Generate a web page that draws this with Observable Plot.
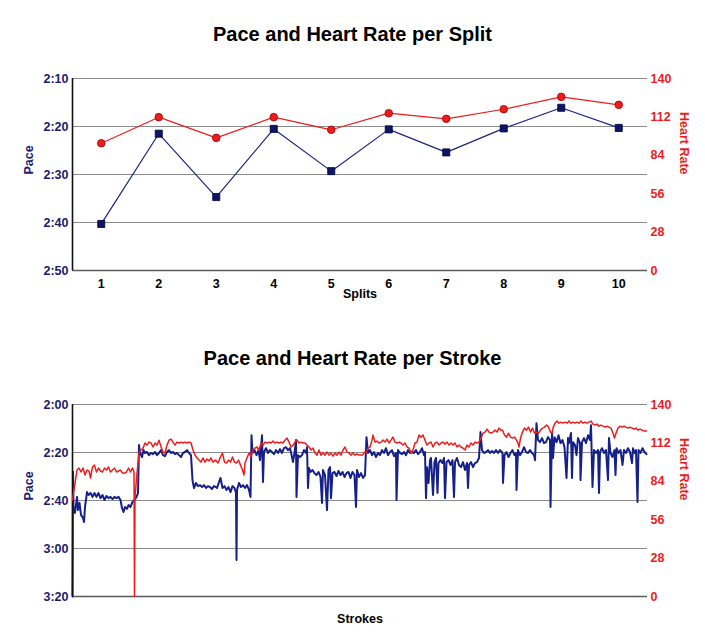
<!DOCTYPE html>
<html><head><meta charset="utf-8">
<script src="https://cdn.jsdelivr.net/npm/d3@7"></script>
<script src="https://cdn.jsdelivr.net/npm/@observablehq/plot@0.6"></script>
<style>
body{margin:0;background:#fff}
#root{position:relative;width:705px;height:643px;overflow:hidden;font-family:"Liberation Sans",Arial,Helvetica,sans-serif;}
.title{position:absolute;left:0;width:705px;text-align:center;font-weight:bold;font-size:20px;line-height:24px;color:#000}
.layer{position:absolute;left:0;width:705px}
.layer svg{overflow:visible}
.layer svg text{font-weight:bold}
</style>
</head><body>
<div id="root">
  <div class="title" style="top:22px">Pace and Heart Rate per Split</div>
  <div class="title" style="top:346px">Pace and Heart Rate per Stroke</div>
  <div id="c1a" class="layer" style="top:60px"></div>
  <div id="c1b" class="layer" style="top:60px"></div>
  <div id="c2a" class="layer" style="top:386px"></div>
  <div id="c2b" class="layer" style="top:386px"></div>
</div>
<script>
// ---- Data ----
const splits = [1, 2, 3, 4, 5, 6, 7, 8, 9, 10];
const splitPace = [160.3, 141.5, 154.7, 140.5, 149.3, 140.6, 145.4, 140.4, 136.1, 140.3]; // seconds per 500m
const splitHR = [92.8, 111.8, 96.7, 111.8, 102.6, 114.7, 110.6, 117.6, 126.6, 120.8];

const splitPaceTicks = [130, 140, 150, 160, 170];
const strokePaceTicks = [120, 140, 160, 180, 200];
const hrTicks = [0, 28, 56, 84, 112, 140];

// [stroke, pace seconds]
const strokePace = [[0,200],[1,148],[2,162.7],[5,165.2],[9,158.5],[11,164],[14,161],[17,166],[21,167.3],[23,169],[25,162.7],[29,156.5],[32,157.7],[36,156.9],[40,158.5],[44,156.9],[48,158.5],[52,156.9],[56,159],[60,157.7],[64,159.8],[68,158.1],[72,159],[76,158.5],[80,159.4],[84,158.5],[88,159],[92,158.5],[96,159.8],[99,163.1],[102,164.8],[105,162.7],[109,163.5],[112,161.9],[116,162.7],[120,160.6],[124,159.8],[128,158.5],[131,156.9],[133,136.9],[135,140.2],[139,141.9],[142,139],[145,140.2],[149,139.8],[153,141.1],[157,140.2],[161,140.7],[165,139.8],[169,141.1],[173,140.2],[177,139],[181,141.1],[185,141.5],[189,139.8],[193,139],[197,140.2],[201,139.8],[205,140.7],[209,140.2],[213,141.1],[217,141.9],[221,140.2],[225,139.8],[229,139],[233,140.2],[237,141.1],[240,151.5],[243,154.8],[247,152.7],[251,154],[255,153.6],[259,154.4],[263,153.6],[267,154.8],[271,154],[275,154.4],[279,155.2],[283,154],[287,154.4],[289,154.8],[296,150.6],[300,154.8],[304,154],[308,155.6],[312,154.4],[316,156.5],[320,154],[324,154.8],[327,156.9],[328,184.8],[329,155.6],[333,152.7],[337,154.4],[341,153.6],[345,154.8],[349,153.6],[353,155.6],[356,158.5],[358,132.8],[360,140.2],[364,139],[368,141.1],[372,139],[375,143.2],[377,138.2],[379,132.8],[381,152.3],[383,139.8],[387,138.2],[391,140.2],[395,139],[399,139.8],[403,140.7],[407,139],[411,140.2],[415,138.6],[419,140.2],[423,138.2],[427,137.8],[431,139],[435,138.2],[439,141.9],[441,144],[444,140.2],[447,134.8],[448,158.5],[451,141.1],[455,141.9],[459,141.1],[463,139],[467,140.2],[469,137.8],[471,154.8],[473,146.5],[476,148.1],[480,147.3],[484,148.6],[488,149.4],[492,148.1],[496,150.2],[499,161],[501,147.3],[505,149.4],[509,164],[512,147.3],[515,146.1],[517,159],[520,148.6],[524,148.1],[528,149.8],[532,147.7],[536,149.4],[540,148.1],[544,150.2],[548,148.6],[552,148.1],[556,150.6],[560,148.1],[564,149.4],[567,162.7],[569,147.3],[573,150.2],[577,148.6],[581,150.6],[585,149.4],[588,133.6],[591,140.2],[595,139],[599,141.1],[603,139.8],[607,141.9],[611,140.2],[615,141.1],[619,139],[623,140.2],[627,138.2],[631,141.1],[635,139.8],[639,139],[643,141.5],[647,140.2],[648,159.8],[651,139],[655,140.2],[659,140.7],[663,139.8],[667,141.1],[671,139],[675,140.2],[679,139.8],[683,140.2],[687,139],[691,140.7],[695,139.8],[699,138.2],[703,141.1],[705,139.8],[707,159],[709,146.1],[712,152.7],[715,143.2],[717,142.3],[721,157.7],[724,144],[727,142.3],[730,156.9],[732,144.4],[736,143.2],[740,144.4],[743,142.3],[745,159],[748,144],[752,143.2],[756,145.2],[760,143.2],[763,158.5],[765,144],[769,142.3],[773,145.2],[777,146.1],[781,144],[785,147.3],[789,144.4],[791,154.8],[793,145.2],[797,144],[801,146.1],[805,144.4],[809,144],[813,142.3],[816,131.5],[819,139],[823,140.2],[827,139.8],[831,139],[835,140.2],[839,139.4],[843,140.2],[847,139],[851,140.2],[855,139],[860,140.2],[861,152.7],[864,141.1],[868,139.8],[872,141.9],[876,140.2],[880,139],[884,141.1],[887,140.2],[888,155.6],[891,139],[895,141.1],[899,139.8],[903,137.8],[907,139.8],[911,140.2],[915,139],[919,140.2],[923,141.1],[925,143.2],[928,127.8],[931,134.8],[935,135.7],[939,134],[943,136.1],[947,135.7],[951,133.6],[955,134.8],[956,162.7],[959,131.9],[961,142.3],[964,133.6],[968,135.7],[972,132.8],[976,136.1],[980,134.8],[984,137.8],[988,150.6],[991,134],[993,136.1],[997,131.9],[999,150.6],[1001,135.7],[1005,136.9],[1008,141.1],[1011,134],[1015,136.1],[1016,151.5],[1019,135.7],[1023,134],[1027,136.1],[1031,132.8],[1035,134.8],[1037,128.6],[1040,154.4],[1043,139],[1047,140.2],[1051,139],[1053,156.9],[1055,139.8],[1059,138.2],[1063,140.2],[1067,139],[1071,151.5],[1073,134],[1076,140.2],[1080,141.9],[1084,139],[1086,149.4],[1088,138.2],[1092,140.2],[1096,139],[1100,145.2],[1103,139],[1107,140.2],[1111,138.2],[1115,139.8],[1119,144.4],[1121,138.2],[1124,140.2],[1127,139],[1130,160.6],[1132,139],[1136,140.2],[1140,138.2],[1144,139.8],[1148,140.7]];

// [stroke, heart rate]
const strokeHR = [[0,70.4],[5,82.7],[9,92.2],[13,93.7],[17,90.8],[21,93.7],[25,88.6],[29,92.2],[33,91.5],[36,86.4],[40,94.4],[44,95.8],[48,90.8],[52,93.7],[56,91.5],[60,90.8],[64,93.7],[68,92.2],[72,94.4],[76,90.8],[80,92.2],[84,93.7],[88,90.8],[92,91.5],[96,92.2],[100,90.0],[104,90.0],[108,90.8],[112,93.7],[116,90.8],[120,93.7],[123,90.8],[124,0],[125,72.6],[129,90.0],[133,104.6],[137,106.8],[141,108.2],[145,111.9],[149,110.4],[153,112.6],[157,111.9],[161,109.0],[165,111.9],[169,110.4],[173,114.0],[177,109.0],[181,105.3],[185,104.6],[189,110.4],[193,114.0],[197,114.8],[201,112.6],[205,110.4],[209,112.6],[213,111.9],[217,112.6],[221,111.9],[225,112.6],[229,111.9],[233,112.6],[237,111.9],[241,106.8],[245,103.1],[249,101.0],[253,99.5],[257,98.0],[261,101.0],[265,98.0],[269,100.2],[273,98.8],[277,101.0],[281,98.0],[286,99.5],[291,97.3],[296,101.7],[300,104.6],[304,98.0],[308,97.3],[312,99.5],[316,98.0],[320,101.7],[324,98.0],[328,97.3],[332,99.5],[336,95.8],[340,92.2],[343,88.6],[345,97.3],[349,101.0],[353,104.6],[357,101.7],[361,106.8],[365,108.2],[369,109.0],[373,106.8],[377,111.9],[381,110.4],[385,112.6],[389,111.9],[393,112.6],[397,111.9],[401,113.3],[405,111.9],[409,112.6],[413,111.9],[417,112.6],[421,111.9],[425,114.0],[429,115.5],[433,112.6],[437,109.0],[441,110.4],[445,112.6],[449,114.0],[453,111.9],[457,112.6],[461,111.9],[465,111.9],[469,110.4],[473,109.0],[477,106.8],[481,108.2],[485,104.6],[489,103.1],[493,106.8],[497,103.1],[501,104.6],[505,103.1],[509,105.3],[513,103.1],[517,104.6],[521,102.4],[525,104.6],[529,103.1],[533,105.3],[537,103.1],[541,106.8],[545,109.0],[549,105.3],[553,104.6],[557,103.1],[561,104.6],[565,103.1],[569,103.9],[573,103.1],[580,103.1],[584,105.3],[587,104.6],[591,108.2],[595,109.0],[599,114.0],[601,117.7],[605,112.6],[609,113.3],[613,111.9],[617,112.6],[621,114.0],[625,112.6],[629,114.8],[633,111.9],[637,114.0],[641,116.2],[645,112.6],[649,111.9],[653,112.6],[657,111.9],[661,110.4],[665,111.9],[669,109.0],[673,108.2],[677,104.6],[681,106.8],[685,111.9],[689,112.6],[693,117.7],[697,116.2],[701,117.7],[705,114.0],[709,110.4],[713,111.9],[717,112.6],[721,109.0],[725,111.9],[729,112.6],[733,110.4],[737,111.9],[741,112.6],[745,111.1],[749,112.6],[753,110.4],[757,111.9],[761,110.4],[765,111.9],[769,109.0],[773,110.4],[777,109.0],[781,108.2],[785,106.8],[789,110.4],[793,109.0],[797,111.9],[801,110.4],[805,112.6],[809,111.9],[813,112.6],[817,115.5],[821,119.1],[825,119.9],[829,122.1],[833,119.9],[837,119.1],[841,119.9],[845,121.3],[849,119.9],[853,122.8],[857,121.3],[860,121.3],[864,117.7],[868,116.2],[872,119.1],[876,116.2],[880,115.5],[884,116.2],[888,114.0],[891,111.9],[893,109.0],[896,115.5],[900,119.9],[904,122.8],[908,121.3],[912,123.5],[916,119.9],[920,122.8],[924,119.1],[928,119.9],[932,119.1],[936,121.3],[940,122.8],[944,123.5],[948,125.0],[952,123.5],[956,119.9],[959,119.1],[961,122.8],[965,126.4],[969,127.9],[973,126.4],[977,127.1],[981,126.4],[985,127.1],[989,126.4],[993,127.9],[997,126.4],[1001,127.1],[1005,126.4],[1009,127.1],[1013,126.4],[1017,127.9],[1021,126.4],[1025,127.1],[1029,126.4],[1033,127.1],[1037,127.9],[1041,125.7],[1045,125.0],[1049,125.7],[1053,124.2],[1057,125.0],[1061,124.2],[1065,123.5],[1069,124.2],[1073,123.5],[1077,122.8],[1081,119.1],[1084,115.5],[1087,119.1],[1091,122.8],[1095,124.2],[1099,123.5],[1103,124.2],[1107,123.5],[1111,122.8],[1115,123.5],[1119,122.8],[1123,122.1],[1127,122.8],[1131,121.3],[1135,122.1],[1139,121.3],[1143,120.6],[1148,120.6]];

const strokeDomain = [0, 1150];

// ---- Styles ----
const NAVY = "#16208a";
const NAVY_TEXT = "#1c1c6a";
const RED = "#ee1c1c";
const GRID = "#8c8c8c";
const FONT = "'Liberation Sans', Arial, Helvetica, sans-serif";

const paceFmt = s => { const m = Math.floor(s / 60), r = Math.round(s - m * 60); return m + ":" + String(r).padStart(2, "0"); };

const common = {
  width: 705, height: 250,
  marginLeft: 72, marginRight: 58, marginTop: 18, marginBottom: 40,
  style: {background: "transparent", fontFamily: FONT, fontSize: "12.5px", overflow: "visible"}
};

const splitRows = splits.map((s, i) => ({split: s, pace: splitPace[i], hr: splitHR[i]}));

// ---- Chart 1: pace layer ----
const c1a = Plot.plot({
  ...common,
  x: {domain: [0.5, 10.5]},
  y: {domain: [130, 170], reverse: true},
  marks: [
    Plot.ruleY(splitPaceTicks.slice(0, 4), {stroke: GRID, strokeWidth: 1}),
    Plot.ruleY([170], {stroke: "#5a5a5a", strokeWidth: 1.6}),
    Plot.ruleX([0.5], {stroke: "#111", strokeWidth: 1.6}),
    Plot.axisY({anchor: "left", ticks: splitPaceTicks, tickSize: 0, tickPadding: 4, tickFormat: paceFmt, fill: NAVY_TEXT, fontSize: 12.5, label: null}),
    Plot.axisX({anchor: "bottom", ticks: splits, tickSize: 0, tickPadding: 9, tickFormat: d => String(d), fill: "#000", fontSize: 12.5, label: null}),
    Plot.text(["Pace"], {text: d => d, frameAnchor: "left", dx: -44, rotate: -90, fill: NAVY_TEXT, fontSize: 12.5, fontWeight: "bold"}),
    Plot.text(["Splits"], {text: d => d, frameAnchor: "bottom", dy: 27, fill: "#000", fontSize: 12.5, fontWeight: "bold"}),
    Plot.line(splitRows, {x: "split", y: "pace", stroke: "#1c2580", strokeWidth: 1.2}),
    Plot.dot(splitRows, {x: "split", y: "pace", symbol: "square", r: 4, fill: "#0b1766", stroke: "#000033", strokeWidth: 0.8})
  ]
});
document.getElementById("c1a").append(c1a);

// ---- Chart 1: heart-rate layer ----
const c1b = Plot.plot({
  ...common,
  x: {domain: [0.5, 10.5], axis: null},
  y: {domain: [0, 140]},
  marks: [
    Plot.axisY({anchor: "right", ticks: hrTicks, tickSize: 0, tickPadding: 3, fill: RED, fontSize: 12.5, label: null}),
    Plot.text(["Heart Rate"], {text: d => d, frameAnchor: "right", dx: 36, rotate: 90, fill: RED, fontSize: 12.5, fontWeight: "bold"}),
    Plot.line(splitRows, {x: "split", y: "hr", stroke: RED, strokeWidth: 1.2}),
    Plot.dot(splitRows, {x: "split", y: "hr", r: 3.8, fill: RED, stroke: "#a00000", strokeWidth: 0.8})
  ]
});
document.getElementById("c1b").append(c1b);

// ---- Chart 2: pace layer ----
const c2a = Plot.plot({
  ...common,
  x: {domain: strokeDomain, axis: null},
  y: {domain: [120, 200], reverse: true},
  marks: [
    Plot.ruleY(strokePaceTicks.slice(0, 4), {stroke: GRID, strokeWidth: 1}),
    Plot.ruleY([200], {stroke: "#5a5a5a", strokeWidth: 1.6}),
    Plot.axisY({anchor: "left", ticks: strokePaceTicks, tickSize: 0, tickPadding: 4, tickFormat: paceFmt, fill: NAVY_TEXT, fontSize: 12.5, label: null}),
    Plot.text(["Pace"], {text: d => d, frameAnchor: "left", dx: -44, rotate: -90, fill: NAVY_TEXT, fontSize: 12.5, fontWeight: "bold"}),
    Plot.text(["Strokes"], {text: d => d, frameAnchor: "bottom", dy: 26, fill: "#000", fontSize: 12.5, fontWeight: "bold"}),
    Plot.line(strokePace, {x: d => d[0], y: d => d[1], stroke: NAVY, strokeWidth: 2}),
    Plot.ruleX([0], {stroke: "#111", strokeWidth: 1.6})
  ]
});
document.getElementById("c2a").append(c2a);

// ---- Chart 2: heart-rate layer ----
const c2b = Plot.plot({
  ...common,
  x: {domain: strokeDomain, axis: null},
  y: {domain: [0, 140]},
  marks: [
    Plot.axisY({anchor: "right", ticks: hrTicks, tickSize: 0, tickPadding: 3, fill: RED, fontSize: 12.5, label: null}),
    Plot.text(["Heart Rate"], {text: d => d, frameAnchor: "right", dx: 36, rotate: 90, fill: RED, fontSize: 12.5, fontWeight: "bold"}),
    Plot.line(strokeHR, {x: d => d[0], y: d => d[1], stroke: RED, strokeWidth: 1.5})
  ]
});
document.getElementById("c2b").append(c2b);
</script>
</body></html>
